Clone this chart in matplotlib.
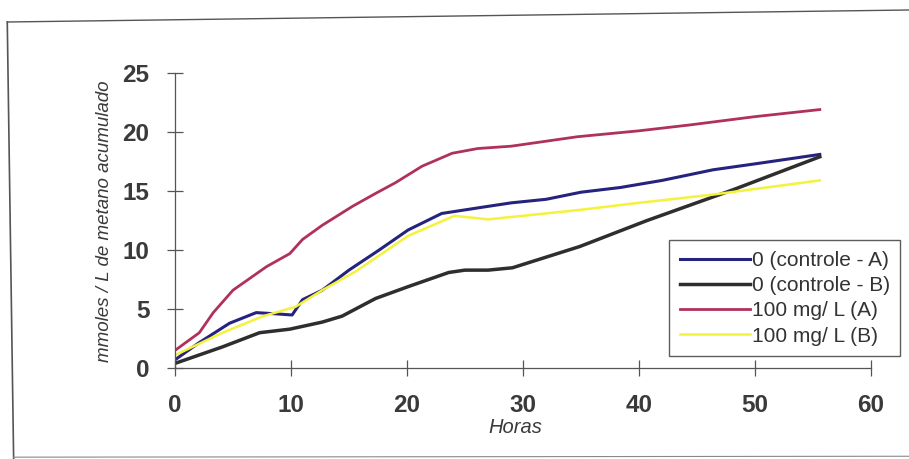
import matplotlib
matplotlib.use("Agg")
import matplotlib.pyplot as plt
from matplotlib.lines import Line2D

# Horas / mmoles por L de metano acumulado
horas_ca = [0, 2, 4.7, 7, 8.7, 10.1, 11, 12.7, 15, 17.6, 20.1, 23, 26.3, 29, 32, 35, 38.4, 42, 46.4, 50, 55.6]
ctrl_a = [0.7, 2.1, 3.8, 4.7, 4.6, 4.5, 5.8, 6.6, 8.3, 10.0, 11.7, 13.1, 13.6, 14.0, 14.3, 14.9, 15.3, 15.9, 16.8, 17.3, 18.1]

horas_cb = [0, 4.1, 7.3, 9.9, 12.7, 14.4, 17.3, 20.1, 23.6, 25, 27, 29.1, 34.9, 40.7, 48.1, 55.6]
ctrl_b = [0.4, 1.8, 3.0, 3.3, 3.9, 4.4, 5.9, 6.9, 8.1, 8.3, 8.3, 8.5, 10.3, 12.5, 15.1, 17.9]

horas_a = [0, 2.1, 3.3, 5, 7.9, 9.9, 11, 12.7, 15.3, 17.3, 19, 21.3, 23.9, 26.1, 29, 34.7, 40, 44.4, 50, 55.6]
dose_a = [1.5, 3.0, 4.7, 6.6, 8.6, 9.7, 10.9, 12.1, 13.7, 14.8, 15.7, 17.1, 18.2, 18.6, 18.8, 19.6, 20.1, 20.6, 21.3, 21.9]

horas_b = [0, 4.1, 7.6, 10.4, 12.7, 15.6, 20.1, 24.1, 27, 34.9, 40, 46.4, 55.6]
dose_b = [1.1, 3.0, 4.4, 5.2, 6.6, 8.2, 11.2, 12.9, 12.6, 13.4, 14.0, 14.7, 15.9]

rotulos = ["0 (controle - A)", "0 (controle - B)", "100 mg/ L (A)", "100 mg/ L (B)"]
cores = ["#25237e", "#2e2e2e", "#b0305e", "#f4f23a"]

plt.rcParams["font.family"] = ["Liberation Sans", "DejaVu Sans"]

fig = plt.figure(figsize=(9.09, 4.59), dpi=100)
ax = fig.add_axes([0.1925, 0.198, 0.7655, 0.643])

ax.plot(horas_ca, ctrl_a, color=cores[0], lw=2.2, label=rotulos[0])
ax.plot(horas_cb, ctrl_b, color=cores[1], lw=2.5, label=rotulos[1])
ax.plot(horas_a, dose_a, color=cores[2], lw=2.0, label=rotulos[2])
ax.plot(horas_b, dose_b, color=cores[3], lw=1.8, label=rotulos[3])

ax.set_xlim(0, 60)
ax.set_ylim(0, 25)
ax.set_xticks(range(0, 61, 10))
ax.set_yticks(range(0, 26, 5))
for s in ("top", "right"):
    ax.spines[s].set_visible(False)
for s in ("left", "bottom"):
    ax.spines[s].set_color("#555555")
    ax.spines[s].set_linewidth(0.9)
ax.tick_params(direction="inout", length=11, width=0.9, color="#555555",
               labelsize=17.5, labelcolor="#3a3a3a")
ax.tick_params(axis="x", pad=13)
ax.tick_params(axis="y", pad=13)
for t in ax.get_xticklabels() + ax.get_yticklabels():
    t.set_fontweight("bold")

ax.set_xlabel("Horas", fontsize=14.5, style="italic", color="#3a3a3a")
ax.xaxis.set_label_coords(0.489, -0.17)
ax.set_ylabel("mmoles / L de metano acumulado", fontsize=13.5, style="italic",
              color="#3a3a3a")
ax.yaxis.set_label_coords(-0.089, 0.498)

leg = ax.legend(loc="lower right", bbox_to_anchor=(1.042, 0.041), fontsize=15,
                frameon=True, fancybox=False, handlelength=3.4, handletextpad=0.05,
                borderpad=0.5, labelspacing=0.3, borderaxespad=0)
leg.get_frame().set_edgecolor("#333333")
leg.get_frame().set_linewidth(1.0)
for t in leg.get_texts():
    t.set_color("#333333")

# moldura externa da figura escaneada
fig.add_artist(Line2D([0.008, 1.0], [1 - 22 / 459, 1 - 10 / 459], color="#555555", lw=1.0))
fig.add_artist(Line2D([0.008, 0.015], [1 - 22 / 459, 0.0], color="#555555", lw=1.2))
fig.add_artist(Line2D([0.015, 1.0], [0.004, 0.006], color="#888888", lw=0.8))

fig.savefig("out.png", dpi=100)
